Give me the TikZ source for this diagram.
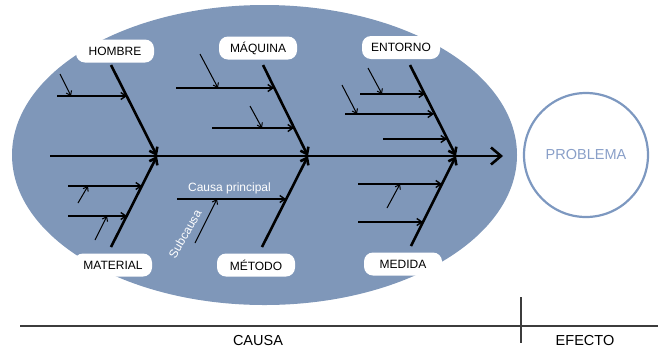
\documentclass[tikz,border=0pt]{standalone}
\usepackage{fontspec}
\setmainfont{Liberation Sans}
\usetikzlibrary{arrows.meta}
\definecolor{fishblue}{RGB}{127,151,185}
\definecolor{problemline}{RGB}{125,152,192}
\definecolor{problemtext}{RGB}{137,159,200}
\definecolor{axisgrey}{RGB}{60,60,60}

\tikzstyle{category}=[fill=white,rounded corners=9pt,minimum width=78pt,minimum height=23pt,inner sep=0pt,font=\fontsize{12}{14}\selectfont]
\tikzstyle{spine}=[draw,line width=2.6pt,-{Straight Barb[length=10pt,width=17pt]}]
\tikzstyle{bone}=[draw,line width=2.6pt,-{Straight Barb[length=6pt,width=9pt]}]
\tikzstyle{cause}=[draw,line width=1.4pt,-{Straight Barb[length=5pt,width=7pt]}]
\tikzstyle{subcause}=[draw,line width=1pt,-{Straight Barb[length=4pt,width=6pt]}]
\tikzstyle{axis}=[draw,line width=1.1pt,axisgrey]
\tikzstyle{caption}=[font=\fontsize{14.5}{16}\selectfont]
\tikzstyle{hint}=[text=white,font=\fontsize{12}{14}\selectfont,inner sep=0pt]

\begin{document}
\begin{tikzpicture}[x=1pt,y=-1pt]
  \useasboundingbox (0,0) rectangle (658,349);
  % background
  \fill[fishblue] (264.5,155) ellipse (252.5pt and 150pt);

  % spine
  \coordinate (tail) at (50,156);
  \coordinate (head) at (503,156);
  \path (tail) edge[spine] (head);

  % categories and bones
  \foreach \nodename/\x/\y/\label/\topx/\topy/\joint in {
    hombre/115/51/HOMBRE/111/65/157,
    maquina/258/48/MÁQUINA/263/65/308,
    entorno/401/47.5/ENTORNO/410/65/456,
    material/113/265/MATERIAL/111/247/157,
    metodo/256/265/MÉTODO/262/247/308,
    medida/403/264/MEDIDA/411/246/456}
  {
    \node[category] (\nodename) at (\x,\y) {\label};
    \coordinate (\nodename end) at (\topx,\topy);
    \coordinate (\nodename joint) at (\joint,156);
    \path (\nodename end) edge[bone] (\nodename joint);
  };

  %edges
  \foreach \cname/\xa/\xb/\y in {
    h1/57/127/96, m1/176/274/88, m2/212/294/128,
    e1/360/425/94, e2/345/434/114, e3/383/447/139,
    t1/68/142/186, t2/68/127/216, d1/177/286/199,
    s1/358/442/184, s2/358/423/222}
  {
    \coordinate (\cname a) at (\xa,\y);
    \coordinate (\cname b) at (\xb,\y);
    \path (\cname a) edge[cause] (\cname b);
  };
  \foreach \cname/\xa/\ya/\xb/\yb in {
    hs1/60/74/71/96, ms1/200/54/218/88, ms2/250/106/262/128,
    es1/368/68/382/94, es2/342/85/357/114,
    ts1/78/203/88/186, ts2/95/240/107/216, ds1/195/243/217/199,
    ss1/387/208/400/184}
  {
    \coordinate (\cname a) at (\xa,\ya);
    \coordinate (\cname b) at (\xb,\yb);
    \path (\cname a) edge[subcause] (\cname b);
  };

  \node[hint] (principal) at (229.5,188) {Causa principal};
  \node[hint,rotate=60] (sub) at (185,234) {Subcausa};

  % effect
  \node[circle,draw=problemline,line width=2.2pt,minimum size=124pt,text=problemtext,font=\fontsize{14.5}{16}\selectfont] (problema) at (586,155) {PROBLEMA};

  % axis
  \coordinate (axisleft) at (20,326);
  \coordinate (axisright) at (658,326);
  \coordinate (divtop) at (521,297);
  \coordinate (divbottom) at (521,343);
  \path (axisleft) edge[axis] (axisright);
  \path (divtop) edge[axis] (divbottom);
  \node[caption] (causa) at (258,340) {CAUSA};
  \node[caption] (efecto) at (585,340) {EFECTO};
\end{tikzpicture}
\end{document}
